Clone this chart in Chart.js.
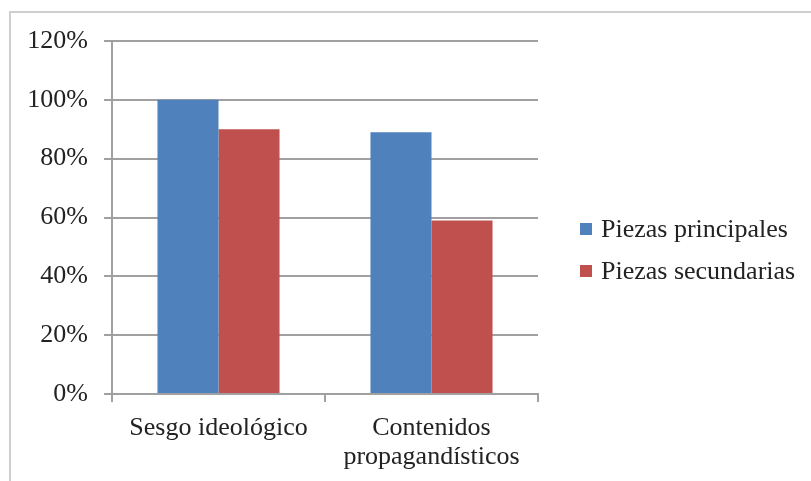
<!DOCTYPE html>
<html lang="es">
<head>
<meta charset="utf-8">
<title>Piezas principales y secundarias</title>
<script src="https://cdn.jsdelivr.net/npm/chart.js@4.4.1/dist/chart.umd.min.js"></script>
<style>
  html, body { margin: 0; padding: 0; background: #fff; }
  .wrap { position: relative; width: 811px; height: 481px; overflow: hidden; }
  /* thin frame of the original chart object (only top and left visible) */
  .frame { position: absolute; left: 9px; top: 11px; width: 900px; height: 600px;
           border-left: 2px solid #cfcfcf; border-top: 2px solid #cfcfcf; }
  canvas { position: absolute; left: 0; top: 0; }
  #legend { position: absolute; left: 580px; top: 208px; margin: 0; padding: 0; list-style: none;
            font-family: 'Liberation Serif', 'Times New Roman', serif; font-size: 26px; color: #222; }
  #legend li { display: flex; align-items: center; height: 42px; white-space: nowrap; }
  #legend .box { display: inline-block; width: 12px; height: 12px; margin-right: 9px; }
</style>
</head>
<body>
<div class="wrap">
  <div class="frame"></div>
  <canvas id="chart" width="811" height="481"></canvas>
  <ul id="legend"></ul>
</div>
<script>
// --- DATA ---
const categories = ['Sesgo ideológico', ['Contenidos', 'propagandísticos']];
const seriesNames = ['Piezas principales', 'Piezas secundarias'];
const principales = [100, 89];
const secundarias = [90, 59];
const yTickLabels = ['0%', '20%', '40%', '60%', '80%', '100%', '120%'];

const gridColor = '#a0a0a0';
const textColor = '#222222';
const fontFamily = "'Liberation Serif', 'Times New Roman', serif";

// HTML legend built from the chart's own legend items
const htmlLegend = {
  id: 'htmlLegend',
  afterUpdate(chart) {
    const ul = document.getElementById('legend');
    ul.innerHTML = '';
    const items = chart.options.plugins.legend.labels.generateLabels(chart);
    items.forEach(item => {
      const li = document.createElement('li');
      const box = document.createElement('span');
      box.className = 'box';
      box.style.background = item.fillStyle;
      li.appendChild(box);
      li.appendChild(document.createTextNode(item.text));
      ul.appendChild(li);
    });
  }
};

const ctx = document.getElementById('chart').getContext('2d');
new Chart(ctx, {
  type: 'bar',
  data: {
    labels: categories,
    datasets: [{
      label: seriesNames[0],
      data: principales,
      backgroundColor: '#4f81bd',
      borderWidth: 0
    }, {
      label: seriesNames[1],
      data: secundarias,
      backgroundColor: '#c0504d',
      borderWidth: 0
    }]
  },
  options: {
    responsive: false,
    animation: false,
    categoryPercentage: 0.573,
    barPercentage: 1,
    layout: { padding: { left: 10, right: 273, top: 41, bottom: 0 } },
    plugins: {
      tooltip: { enabled: false },
      legend: { display: false }
    },
    scales: {
      x: {
        afterFit: (scale) => { scale.height = 87; },
        grid: { drawOnChartArea: false, offset: true, tickLength: 8, color: gridColor, lineWidth: 2 },
        border: { color: gridColor, width: 2 },
        ticks: {
          color: textColor,
          padding: 12,
          maxRotation: 0,
          font: { family: fontFamily, size: 26, lineHeight: 1.1 }
        }
      },
      y: {
        min: 0,
        max: 120,
        afterFit: (scale) => { scale.width = 102; },
        grid: { color: gridColor, lineWidth: 2, tickLength: 8 },
        border: { color: gridColor, width: 2 },
        ticks: {
          stepSize: 20,
          color: textColor,
          padding: 16,
          font: { family: fontFamily, size: 26 },
          callback: (val, i) => yTickLabels[i]
        }
      }
    }
  },
  plugins: [htmlLegend]
});
</script>
</body>
</html>
